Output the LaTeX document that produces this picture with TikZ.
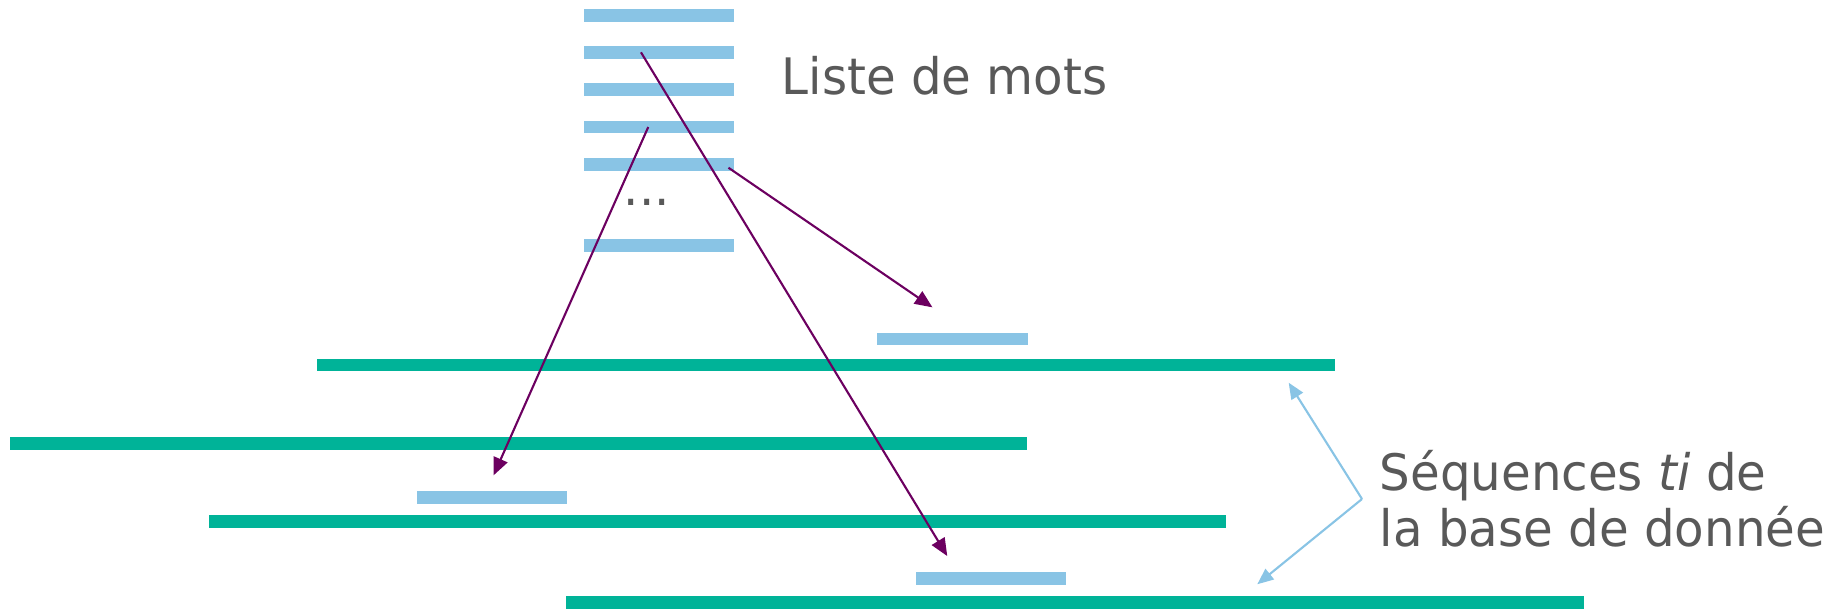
\documentclass[tikz,border=0pt]{standalone}
\usepackage{fontspec}
\setmainfont{DejaVu Sans}[FakeStretch=0.96]
\usetikzlibrary{arrows.meta,calc}
\definecolor{motbleu}{RGB}{137,196,229}
\definecolor{seqvert}{RGB}{0,179,152}
\definecolor{flechevio}{RGB}{108,0,96}
\definecolor{textgris}{RGB}{89,89,89}
\tikzset{
  mot/.style={fill=motbleu, inner sep=0pt, minimum width=1.5cm, minimum height=0.127cm},
  seq/.style={fill=seqvert, inner sep=0pt, minimum width=10.167cm, minimum height=0.127cm},
  fleche/.style={draw=flechevio, line width=0.6pt, -{Triangle[length=5pt,width=4.2pt]}},
  rappel/.style={draw=motbleu, line width=0.6pt, -{Triangle[length=4.6pt,width=3.8pt]}},
  etiquette/.style={text=textgris, font=\fontsize{14.3}{15.9}\selectfont, inner sep=0pt}
}
\begin{document}
\begin{tikzpicture}[x=0.01cm,y=-0.01cm]
    \useasboundingbox (0,0) rectangle (1831,611);
        \node[mot] (m1) at (659,15.3) {};
        \node[mot] (m2) at (659,52.3) {};
        \node[mot] (m3) at (659,89.7) {};
        \node[mot] (m4) at (659,127) {};
        \node[mot] (m5) at (659,164.3) {};
        \node[mot] (m6) at (659,245.7) {};
        \node[etiquette, anchor=base] (pts) at (647,205) {...};
        \node[etiquette, anchor=base west] (liste) at (781,94.3) {Liste de mots};
        \node[seq] (t1) at (826,365) {};
        \node[seq] (t2) at (518.3,443.3) {};
        \node[seq] (t3) at (717.3,521.3) {};
        \node[seq] (t4) at (1075,602.5) {};
        \node[mot] (a) at (952.5,339) {};
        \node[mot] (b) at (491.7,497.7) {};
        \node[mot] (c) at (991.3,578.7) {};
        \draw[fleche] ($(m2.west)+(57.7,0)$) -- ($(c.north west)+(31.7,-15.6)$);
        \draw[fleche] ($(m4.west)+(65,0)$) -- ($(b.north west)+(77.6,-15.3)$);
        \draw[fleche] ($(m5.east)+(-6.3,3.4)$) -- ($(a.north west)+(55.7,-24.6)$);
        \node[etiquette, anchor=base west] (seq1) at (1379,490) {Séquences \textit{ti} de};
        \node[etiquette, anchor=base west] (seq2) at (1379,546) {la base de donnée};
        \coordinate (pli) at ($(seq1.base west)+(-17,9)$);
        \draw[rappel] (pli) -- ($(t1.south east)+(-46.7,10.6)$);
        \draw[rappel] (pli) -- ($(t4.north west)+(691.6,-11.2)$);
    \end{tikzpicture}
\end{document}
